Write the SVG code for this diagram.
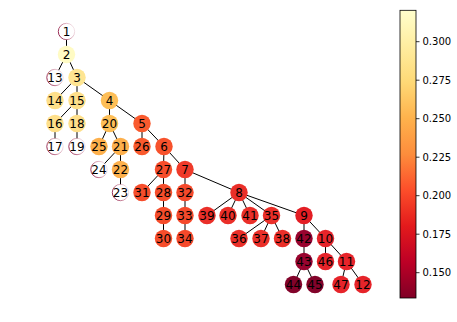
<svg xmlns="http://www.w3.org/2000/svg" width="457" height="322" viewBox="0 0 457 322">
<defs>
<style>
.n circle{stroke:none}
.n text{font-family:"DejaVu Sans",sans-serif;font-size:12px;fill:#000;text-anchor:middle;dominant-baseline:central}
.w circle{fill:#fff;stroke:url(#ring);stroke-width:1}
.e line{stroke:#000;stroke-width:1}
.tk{stroke:#000;stroke-width:0.8}
.tl{font-family:"DejaVu Sans",sans-serif;font-size:10px;fill:#000;dominant-baseline:central}
</style>
<linearGradient id="ring" x1="0" y1="0.7" x2="1" y2="0.3">
<stop offset="0" stop-color="#8a1240" stop-opacity="0.95"/>
<stop offset="0.5" stop-color="#a8385c" stop-opacity="0.5"/>
<stop offset="1" stop-color="#c06080" stop-opacity="0.15"/>
</linearGradient>
<linearGradient id="cmap" x1="0" y1="1" x2="0" y2="0">
<stop offset="0" stop-color="#800026"/>
<stop offset="0.125" stop-color="#bd0026"/>
<stop offset="0.25" stop-color="#e31a1c"/>
<stop offset="0.375" stop-color="#fc4e2a"/>
<stop offset="0.5" stop-color="#fd8d3c"/>
<stop offset="0.625" stop-color="#feb24c"/>
<stop offset="0.75" stop-color="#fed976"/>
<stop offset="0.875" stop-color="#ffeda0"/>
<stop offset="1" stop-color="#ffffcc"/>
</linearGradient>
</defs>
<rect width="457" height="322" fill="#fff"/>
<g id="edges" class="e">
<line x1="66.5" y1="31.5" x2="66.5" y2="54.5"/>
<line x1="66.5" y1="54.5" x2="55" y2="77.5"/>
<line x1="66.5" y1="54.5" x2="77" y2="77.5"/>
<line x1="77" y1="77.5" x2="55" y2="100.5"/>
<line x1="77" y1="77.5" x2="77" y2="100.5"/>
<line x1="77" y1="77.5" x2="109.5" y2="100.5"/>
<line x1="77" y1="100.5" x2="55" y2="123.5"/>
<line x1="77" y1="100.5" x2="77" y2="123.5"/>
<line x1="55" y1="123.5" x2="55" y2="146.5"/>
<line x1="77" y1="123.5" x2="77" y2="146.5"/>
<line x1="109.5" y1="100.5" x2="109.5" y2="123.5"/>
<line x1="109.5" y1="100.5" x2="142" y2="123.5"/>
<line x1="109.5" y1="123.5" x2="99" y2="146.5"/>
<line x1="109.5" y1="123.5" x2="120.5" y2="146.5"/>
<line x1="120.5" y1="146.5" x2="99" y2="169.5"/>
<line x1="120.5" y1="146.5" x2="120.5" y2="169.5"/>
<line x1="120.5" y1="169.5" x2="120.5" y2="192.5"/>
<line x1="142" y1="123.5" x2="142" y2="146.5"/>
<line x1="142" y1="123.5" x2="164" y2="146.5"/>
<line x1="164" y1="146.5" x2="163.5" y2="169.5"/>
<line x1="164" y1="146.5" x2="185" y2="169.5"/>
<line x1="163.5" y1="169.5" x2="142" y2="192.5"/>
<line x1="163.5" y1="169.5" x2="163.5" y2="192.5"/>
<line x1="163.5" y1="192.5" x2="163.5" y2="215.5"/>
<line x1="163.5" y1="215.5" x2="163.5" y2="238.5"/>
<line x1="185" y1="169.5" x2="185" y2="192.5"/>
<line x1="185" y1="192.5" x2="185" y2="215.5"/>
<line x1="185" y1="215.5" x2="185" y2="238.5"/>
<line x1="185" y1="169.5" x2="239" y2="192.5"/>
<line x1="239" y1="192.5" x2="207" y2="215.5"/>
<line x1="239" y1="192.5" x2="228" y2="215.5"/>
<line x1="239" y1="192.5" x2="250" y2="215.5"/>
<line x1="239" y1="192.5" x2="271.5" y2="215.5"/>
<line x1="239" y1="192.5" x2="304" y2="215.5"/>
<line x1="271.5" y1="215.5" x2="239" y2="238.5"/>
<line x1="271.5" y1="215.5" x2="261" y2="238.5"/>
<line x1="271.5" y1="215.5" x2="282.5" y2="238.5"/>
<line x1="304" y1="215.5" x2="304" y2="238.5"/>
<line x1="304" y1="215.5" x2="325.5" y2="238.5"/>
<line x1="304" y1="238.5" x2="304" y2="261.5"/>
<line x1="304" y1="261.5" x2="293.5" y2="284.5"/>
<line x1="304" y1="261.5" x2="315" y2="284.5"/>
<line x1="325.5" y1="238.5" x2="325.5" y2="261.5"/>
<line x1="325.5" y1="238.5" x2="346.5" y2="261.5"/>
<line x1="346.5" y1="261.5" x2="341" y2="284.5"/>
<line x1="346.5" y1="261.5" x2="363" y2="284.5"/>
</g>
<g id="n1" class="n w"><circle cx="66.5" cy="31.5" r="8.2"/><text x="66.5" y="31.5">1</text></g>
<g id="n2" class="n"><circle cx="66.5" cy="54.5" r="8.7" fill="#fffbc4"/><text x="66.5" y="54.5">2</text></g>
<g id="n13" class="n w"><circle cx="55" cy="77.5" r="8.2"/><text x="55" y="77.5">13</text></g>
<g id="n3" class="n"><circle cx="77" cy="77.5" r="8.7" fill="#fee592"/><text x="77" y="77.5">3</text></g>
<g id="n14" class="n"><circle cx="55" cy="100.5" r="8.7" fill="#fedf8a"/><text x="55" y="100.5">14</text></g>
<g id="n15" class="n"><circle cx="77" cy="100.5" r="8.7" fill="#fedf8a"/><text x="77" y="100.5">15</text></g>
<g id="n4" class="n"><circle cx="109.5" cy="100.5" r="8.7" fill="#fdbe57"/><text x="109.5" y="100.5">4</text></g>
<g id="n16" class="n"><circle cx="55" cy="123.5" r="8.7" fill="#fedf8a"/><text x="55" y="123.5">16</text></g>
<g id="n18" class="n"><circle cx="77" cy="123.5" r="8.7" fill="#fedf8a"/><text x="77" y="123.5">18</text></g>
<g id="n20" class="n"><circle cx="109.5" cy="123.5" r="8.7" fill="#fdbe57"/><text x="109.5" y="123.5">20</text></g>
<g id="n5" class="n"><circle cx="142" cy="123.5" r="8.7" fill="#f95a2e"/><text x="142" y="123.5">5</text></g>
<g id="n17" class="n w"><circle cx="55" cy="146.5" r="8.2"/><text x="55" y="146.5">17</text></g>
<g id="n19" class="n w"><circle cx="77" cy="146.5" r="8.2"/><text x="77" y="146.5">19</text></g>
<g id="n25" class="n"><circle cx="99" cy="146.5" r="8.7" fill="#fdb04c"/><text x="99" y="146.5">25</text></g>
<g id="n21" class="n"><circle cx="120.5" cy="146.5" r="8.7" fill="#fdb04c"/><text x="120.5" y="146.5">21</text></g>
<g id="n26" class="n"><circle cx="142" cy="146.5" r="8.7" fill="#f95a2e"/><text x="142" y="146.5">26</text></g>
<g id="n6" class="n"><circle cx="164" cy="146.5" r="8.7" fill="#f7522c"/><text x="164" y="146.5">6</text></g>
<g id="n24" class="n w"><circle cx="99" cy="169.5" r="8.2"/><text x="99" y="169.5">24</text></g>
<g id="n22" class="n"><circle cx="120.5" cy="169.5" r="8.7" fill="#fdb04c"/><text x="120.5" y="169.5">22</text></g>
<g id="n27" class="n"><circle cx="163.5" cy="169.5" r="8.7" fill="#f64d2b"/><text x="163.5" y="169.5">27</text></g>
<g id="n7" class="n"><circle cx="185" cy="169.5" r="8.7" fill="#ef3a2a"/><text x="185" y="169.5">7</text></g>
<g id="n23" class="n w"><circle cx="120.5" cy="192.5" r="8.2"/><text x="120.5" y="192.5">23</text></g>
<g id="n31" class="n"><circle cx="142" cy="192.5" r="8.7" fill="#f64d2b"/><text x="142" y="192.5">31</text></g>
<g id="n28" class="n"><circle cx="163.5" cy="192.5" r="8.7" fill="#f64d2b"/><text x="163.5" y="192.5">28</text></g>
<g id="n32" class="n"><circle cx="185" cy="192.5" r="8.7" fill="#f5492b"/><text x="185" y="192.5">32</text></g>
<g id="n8" class="n"><circle cx="239" cy="192.5" r="8.7" fill="#ea2f29"/><text x="239" y="192.5">8</text></g>
<g id="n29" class="n"><circle cx="163.5" cy="215.5" r="8.7" fill="#f64d2b"/><text x="163.5" y="215.5">29</text></g>
<g id="n33" class="n"><circle cx="185" cy="215.5" r="8.7" fill="#f5492b"/><text x="185" y="215.5">33</text></g>
<g id="n39" class="n"><circle cx="207" cy="215.5" r="8.7" fill="#ea2f29"/><text x="207" y="215.5">39</text></g>
<g id="n40" class="n"><circle cx="228" cy="215.5" r="8.7" fill="#ea2f29"/><text x="228" y="215.5">40</text></g>
<g id="n41" class="n"><circle cx="250" cy="215.5" r="8.7" fill="#ea2f29"/><text x="250" y="215.5">41</text></g>
<g id="n35" class="n"><circle cx="271.5" cy="215.5" r="8.7" fill="#ea2f29"/><text x="271.5" y="215.5">35</text></g>
<g id="n9" class="n"><circle cx="304" cy="215.5" r="8.7" fill="#e31e24"/><text x="304" y="215.5">9</text></g>
<g id="n30" class="n"><circle cx="163.5" cy="238.5" r="8.7" fill="#f64d2b"/><text x="163.5" y="238.5">30</text></g>
<g id="n34" class="n"><circle cx="185" cy="238.5" r="8.7" fill="#f5492b"/><text x="185" y="238.5">34</text></g>
<g id="n36" class="n"><circle cx="239" cy="238.5" r="8.7" fill="#ea2f29"/><text x="239" y="238.5">36</text></g>
<g id="n37" class="n"><circle cx="261" cy="238.5" r="8.7" fill="#ea2f29"/><text x="261" y="238.5">37</text></g>
<g id="n38" class="n"><circle cx="282.5" cy="238.5" r="8.7" fill="#ea2f29"/><text x="282.5" y="238.5">38</text></g>
<g id="n42" class="n"><circle cx="304" cy="238.5" r="8.7" fill="#98042f"/><text x="304" y="238.5">42</text></g>
<g id="n10" class="n"><circle cx="325.5" cy="238.5" r="8.7" fill="#e6242a"/><text x="325.5" y="238.5">10</text></g>
<g id="n43" class="n"><circle cx="304" cy="261.5" r="8.7" fill="#98042f"/><text x="304" y="261.5">43</text></g>
<g id="n46" class="n"><circle cx="325.5" cy="261.5" r="8.7" fill="#e6242a"/><text x="325.5" y="261.5">46</text></g>
<g id="n11" class="n"><circle cx="346.5" cy="261.5" r="8.7" fill="#e6242a"/><text x="346.5" y="261.5">11</text></g>
<g id="n44" class="n"><circle cx="293.5" cy="284.5" r="8.7" fill="#82032a"/><text x="293.5" y="284.5">44</text></g>
<g id="n45" class="n"><circle cx="315" cy="284.5" r="8.7" fill="#82032a"/><text x="315" y="284.5">45</text></g>
<g id="n47" class="n"><circle cx="341" cy="284.5" r="8.7" fill="#e6242a"/><text x="341" y="284.5">47</text></g>
<g id="n12" class="n"><circle cx="363" cy="284.5" r="8.7" fill="#e6242a"/><text x="363" y="284.5">12</text></g>
<g id="colorbar">
<rect x="400" y="10.3" width="16" height="287.7" fill="url(#cmap)" stroke="#000" stroke-width="0.8"/>
<line class="tk" x1="416" y1="41.7" x2="419.5" y2="41.7"/>
<line class="tk" x1="416" y1="80.2" x2="419.5" y2="80.2"/>
<line class="tk" x1="416" y1="118.7" x2="419.5" y2="118.7"/>
<line class="tk" x1="416" y1="157.2" x2="419.5" y2="157.2"/>
<line class="tk" x1="416" y1="195.7" x2="419.5" y2="195.7"/>
<line class="tk" x1="416" y1="234.2" x2="419.5" y2="234.2"/>
<line class="tk" x1="416" y1="272.7" x2="419.5" y2="272.7"/>
<text class="tl" x="422.5" y="41.7">0.300</text>
<text class="tl" x="422.5" y="80.2">0.275</text>
<text class="tl" x="422.5" y="118.7">0.250</text>
<text class="tl" x="422.5" y="157.2">0.225</text>
<text class="tl" x="422.5" y="195.7">0.200</text>
<text class="tl" x="422.5" y="234.2">0.175</text>
<text class="tl" x="422.5" y="272.7">0.150</text>
</g>
</svg>
